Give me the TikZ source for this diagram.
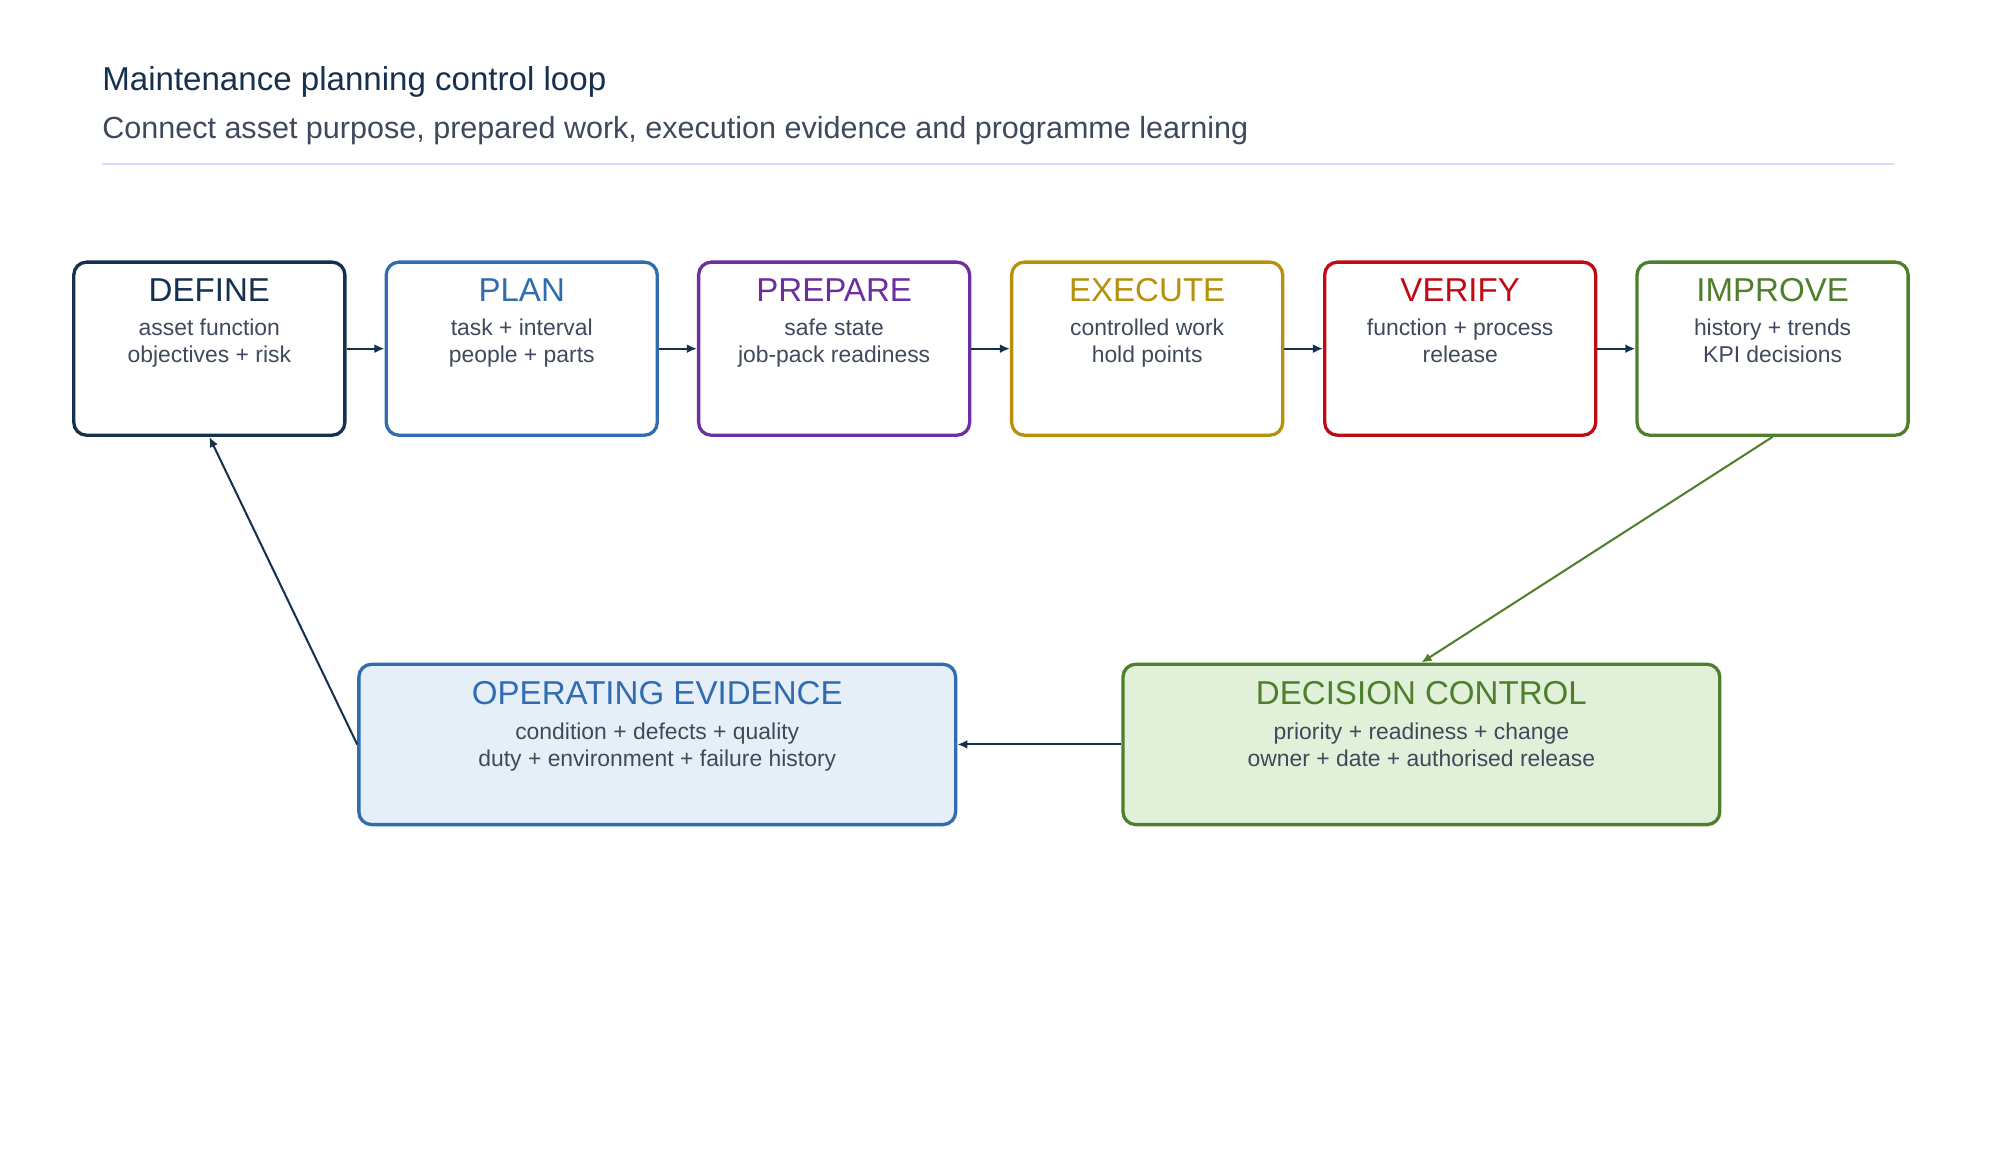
\documentclass[tikz,border=0pt]{standalone}
\usepackage{fontspec}
\setmainfont{Liberation Sans}
\usetikzlibrary{positioning,arrows.meta}
\definecolor{navy}{HTML}{16304F}
\definecolor{planblue}{HTML}{2F6DB0}
\definecolor{purp}{HTML}{6B2FA0}
\definecolor{gold}{HTML}{B8900C}
\definecolor{vred}{HTML}{C00A14}
\definecolor{green}{HTML}{4F7F2D}
\definecolor{slate}{HTML}{3E4A5C}
\definecolor{evfill}{HTML}{E6EFF8}
\definecolor{decfill}{HTML}{E1F0D8}
\tikzset{
  stage/.style={draw=#1, line width=1.3pt, rounded corners=5pt, minimum width=106.5pt, minimum height=68pt, inner sep=0pt},
  big/.style={draw=#1, line width=1.3pt, rounded corners=5pt, minimum width=234.5pt, minimum height=63pt, inner sep=0pt},
  head/.style={text=#1, font=\fontsize{13}{15}\selectfont, inner sep=0pt},
  body/.style={text=slate, font=\fontsize{9}{10.5}\selectfont, align=center, inner sep=0pt},
  link/.style={-{Latex[length=4pt,width=3.5pt]}, line width=0.8pt, draw=navy},
}
\begin{document}
\begin{tikzpicture}[x=0.5pt,y=-0.5pt]
\useasboundingbox (0,0) rectangle (1567,912);
% heading
\node[anchor=base west, text=navy, font=\fontsize{13}{15}\selectfont, inner sep=0pt] (title) at (80,71) {Maintenance planning control loop};
\node[anchor=base west, text=slate, font=\fontsize{12}{14}\selectfont, inner sep=0pt] (sub) at (80,109) {Connect asset purpose, prepared work, execution evidence and programme learning};
\draw[draw=blue!15, line width=0.8pt] (80,129) -- (1488,129);

% stages
\foreach \n/\x/\c/\h/\a/\b in {
  def/164.5/navy/DEFINE/asset function/objectives + risk,
  pln/410/planblue/PLAN/task + interval/people + parts,
  prp/655.5/purp/PREPARE/safe state/job-pack readiness,
  exe/901.5/gold/EXECUTE/controlled work/hold points,
  ver/1147.5/vred/VERIFY/function + process/release,
  imp/1393/green/IMPROVE/history + trends/KPI decisions}{
  \node[stage=\c] (\n) at (\x,274) {};
  \node[head=\c, anchor=base] (\n-h) at (\x,237) {\h};
  \node[body, anchor=base] (\n-t) at (\x,285) {\a\\\b};
}

% loop boxes
\node[big=planblue, fill=evfill] (evid) at (516.5,585) {};
\node[head=planblue, anchor=base] (evid-h) at (516.5,554) {OPERATING EVIDENCE};
\node[body, anchor=base] (evid-t) at (516.5,602) {condition + defects + quality\\duty + environment + failure history};
\node[big=green, fill=decfill] (dec) at (1117,585) {};
\node[head=green, anchor=base] (dec-h) at (1117,554) {DECISION CONTROL};
\node[body, anchor=base] (dec-t) at (1117,602) {priority + readiness + change\\owner + date + authorised release};

\draw[link] (def) -- (pln);
\draw[link] (pln) -- (prp);
\draw[link] (prp) -- (exe);
\draw[link] (exe) -- (ver);
\draw[link] (ver) -- (imp);
\draw[link, draw=green] (imp.south) -- (dec.north);
\draw[link] (dec) -- (evid);
\draw[link] (evid.west) -- (def.south);
\end{tikzpicture}
\end{document}
